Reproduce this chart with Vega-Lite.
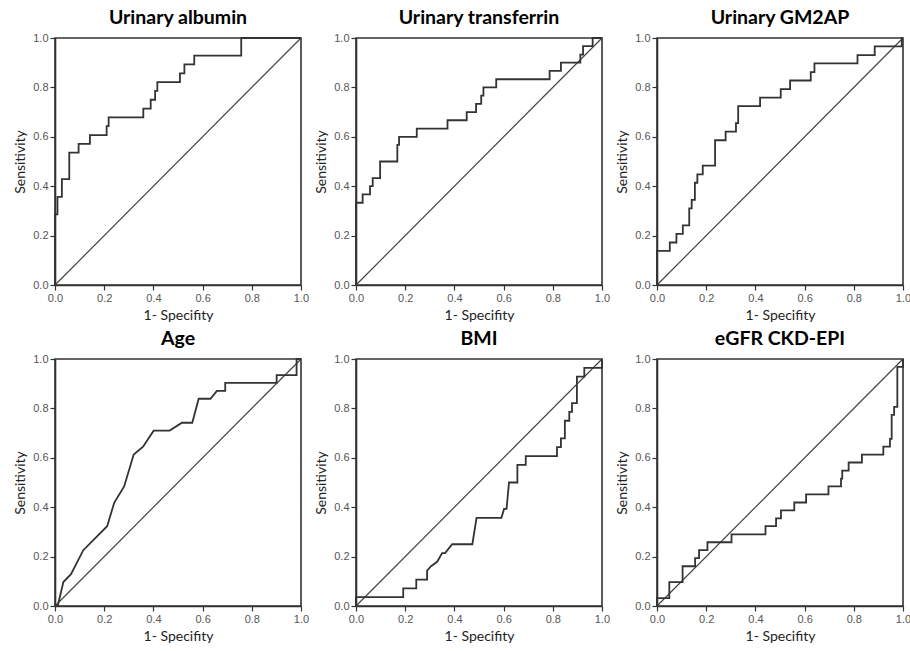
{
  "$schema": "https://vega.github.io/schema/vega-lite/v6.json",
  "padding": {"left": 12, "top": 6, "right": 5, "bottom": 5},
  "background": "white",
  "datasets": {
    "roc": [
      {"p":"Urinary albumin","s":"d","x":0,"y":0},{"p":"Urinary albumin","s":"d","x":1,"y":1},
      {"p":"Urinary albumin","s":"c","x":0,"y":0},{"p":"Urinary albumin","s":"c","x":0,"y":0.286},{"p":"Urinary albumin","s":"c","x":0.01,"y":0.286},{"p":"Urinary albumin","s":"c","x":0.01,"y":0.357},{"p":"Urinary albumin","s":"c","x":0.028,"y":0.357},{"p":"Urinary albumin","s":"c","x":0.028,"y":0.429},{"p":"Urinary albumin","s":"c","x":0.058,"y":0.429},{"p":"Urinary albumin","s":"c","x":0.058,"y":0.536},{"p":"Urinary albumin","s":"c","x":0.096,"y":0.536},{"p":"Urinary albumin","s":"c","x":0.096,"y":0.571},{"p":"Urinary albumin","s":"c","x":0.142,"y":0.571},{"p":"Urinary albumin","s":"c","x":0.142,"y":0.607},{"p":"Urinary albumin","s":"c","x":0.21,"y":0.607},{"p":"Urinary albumin","s":"c","x":0.21,"y":0.643},{"p":"Urinary albumin","s":"c","x":0.218,"y":0.643},{"p":"Urinary albumin","s":"c","x":0.218,"y":0.679},{"p":"Urinary albumin","s":"c","x":0.359,"y":0.679},{"p":"Urinary albumin","s":"c","x":0.359,"y":0.714},{"p":"Urinary albumin","s":"c","x":0.389,"y":0.714},{"p":"Urinary albumin","s":"c","x":0.389,"y":0.75},{"p":"Urinary albumin","s":"c","x":0.407,"y":0.75},{"p":"Urinary albumin","s":"c","x":0.407,"y":0.786},{"p":"Urinary albumin","s":"c","x":0.416,"y":0.786},{"p":"Urinary albumin","s":"c","x":0.416,"y":0.821},{"p":"Urinary albumin","s":"c","x":0.508,"y":0.821},{"p":"Urinary albumin","s":"c","x":0.508,"y":0.857},{"p":"Urinary albumin","s":"c","x":0.526,"y":0.857},{"p":"Urinary albumin","s":"c","x":0.526,"y":0.893},{"p":"Urinary albumin","s":"c","x":0.566,"y":0.893},{"p":"Urinary albumin","s":"c","x":0.566,"y":0.929},{"p":"Urinary albumin","s":"c","x":0.757,"y":0.929},{"p":"Urinary albumin","s":"c","x":0.757,"y":1},{"p":"Urinary albumin","s":"c","x":1,"y":1},

      {"p":"Urinary transferrin","s":"d","x":0,"y":0},{"p":"Urinary transferrin","s":"d","x":1,"y":1},
      {"p":"Urinary transferrin","s":"c","x":0,"y":0},{"p":"Urinary transferrin","s":"c","x":0,"y":0.333},{"p":"Urinary transferrin","s":"c","x":0.027,"y":0.333},{"p":"Urinary transferrin","s":"c","x":0.027,"y":0.367},{"p":"Urinary transferrin","s":"c","x":0.057,"y":0.367},{"p":"Urinary transferrin","s":"c","x":0.057,"y":0.4},{"p":"Urinary transferrin","s":"c","x":0.068,"y":0.4},{"p":"Urinary transferrin","s":"c","x":0.068,"y":0.433},{"p":"Urinary transferrin","s":"c","x":0.098,"y":0.433},{"p":"Urinary transferrin","s":"c","x":0.098,"y":0.5},{"p":"Urinary transferrin","s":"c","x":0.168,"y":0.5},{"p":"Urinary transferrin","s":"c","x":0.168,"y":0.567},{"p":"Urinary transferrin","s":"c","x":0.175,"y":0.567},{"p":"Urinary transferrin","s":"c","x":0.175,"y":0.6},{"p":"Urinary transferrin","s":"c","x":0.247,"y":0.6},{"p":"Urinary transferrin","s":"c","x":0.247,"y":0.633},{"p":"Urinary transferrin","s":"c","x":0.372,"y":0.633},{"p":"Urinary transferrin","s":"c","x":0.372,"y":0.667},{"p":"Urinary transferrin","s":"c","x":0.45,"y":0.667},{"p":"Urinary transferrin","s":"c","x":0.45,"y":0.7},{"p":"Urinary transferrin","s":"c","x":0.488,"y":0.7},{"p":"Urinary transferrin","s":"c","x":0.488,"y":0.733},{"p":"Urinary transferrin","s":"c","x":0.509,"y":0.733},{"p":"Urinary transferrin","s":"c","x":0.509,"y":0.767},{"p":"Urinary transferrin","s":"c","x":0.518,"y":0.767},{"p":"Urinary transferrin","s":"c","x":0.518,"y":0.8},{"p":"Urinary transferrin","s":"c","x":0.57,"y":0.8},{"p":"Urinary transferrin","s":"c","x":0.57,"y":0.833},{"p":"Urinary transferrin","s":"c","x":0.787,"y":0.833},{"p":"Urinary transferrin","s":"c","x":0.787,"y":0.867},{"p":"Urinary transferrin","s":"c","x":0.833,"y":0.867},{"p":"Urinary transferrin","s":"c","x":0.833,"y":0.9},{"p":"Urinary transferrin","s":"c","x":0.912,"y":0.9},{"p":"Urinary transferrin","s":"c","x":0.912,"y":0.933},{"p":"Urinary transferrin","s":"c","x":0.923,"y":0.933},{"p":"Urinary transferrin","s":"c","x":0.923,"y":0.967},{"p":"Urinary transferrin","s":"c","x":0.962,"y":0.967},{"p":"Urinary transferrin","s":"c","x":0.962,"y":1},{"p":"Urinary transferrin","s":"c","x":1,"y":1},

      {"p":"Urinary GM2AP","s":"d","x":0,"y":0},{"p":"Urinary GM2AP","s":"d","x":1,"y":1},
      {"p":"Urinary GM2AP","s":"c","x":0,"y":0},{"p":"Urinary GM2AP","s":"c","x":0,"y":0.138},{"p":"Urinary GM2AP","s":"c","x":0.052,"y":0.138},{"p":"Urinary GM2AP","s":"c","x":0.052,"y":0.172},{"p":"Urinary GM2AP","s":"c","x":0.079,"y":0.172},{"p":"Urinary GM2AP","s":"c","x":0.079,"y":0.207},{"p":"Urinary GM2AP","s":"c","x":0.105,"y":0.207},{"p":"Urinary GM2AP","s":"c","x":0.105,"y":0.241},{"p":"Urinary GM2AP","s":"c","x":0.131,"y":0.241},{"p":"Urinary GM2AP","s":"c","x":0.131,"y":0.31},{"p":"Urinary GM2AP","s":"c","x":0.141,"y":0.31},{"p":"Urinary GM2AP","s":"c","x":0.141,"y":0.345},{"p":"Urinary GM2AP","s":"c","x":0.154,"y":0.345},{"p":"Urinary GM2AP","s":"c","x":0.154,"y":0.414},{"p":"Urinary GM2AP","s":"c","x":0.164,"y":0.414},{"p":"Urinary GM2AP","s":"c","x":0.164,"y":0.448},{"p":"Urinary GM2AP","s":"c","x":0.186,"y":0.448},{"p":"Urinary GM2AP","s":"c","x":0.186,"y":0.483},{"p":"Urinary GM2AP","s":"c","x":0.236,"y":0.483},{"p":"Urinary GM2AP","s":"c","x":0.236,"y":0.586},{"p":"Urinary GM2AP","s":"c","x":0.279,"y":0.586},{"p":"Urinary GM2AP","s":"c","x":0.279,"y":0.621},{"p":"Urinary GM2AP","s":"c","x":0.321,"y":0.621},{"p":"Urinary GM2AP","s":"c","x":0.321,"y":0.655},{"p":"Urinary GM2AP","s":"c","x":0.33,"y":0.655},{"p":"Urinary GM2AP","s":"c","x":0.33,"y":0.724},{"p":"Urinary GM2AP","s":"c","x":0.419,"y":0.724},{"p":"Urinary GM2AP","s":"c","x":0.419,"y":0.759},{"p":"Urinary GM2AP","s":"c","x":0.503,"y":0.759},{"p":"Urinary GM2AP","s":"c","x":0.503,"y":0.793},{"p":"Urinary GM2AP","s":"c","x":0.541,"y":0.793},{"p":"Urinary GM2AP","s":"c","x":0.541,"y":0.828},{"p":"Urinary GM2AP","s":"c","x":0.625,"y":0.828},{"p":"Urinary GM2AP","s":"c","x":0.625,"y":0.862},{"p":"Urinary GM2AP","s":"c","x":0.64,"y":0.862},{"p":"Urinary GM2AP","s":"c","x":0.64,"y":0.897},{"p":"Urinary GM2AP","s":"c","x":0.815,"y":0.897},{"p":"Urinary GM2AP","s":"c","x":0.815,"y":0.931},{"p":"Urinary GM2AP","s":"c","x":0.885,"y":0.931},{"p":"Urinary GM2AP","s":"c","x":0.885,"y":0.966},{"p":"Urinary GM2AP","s":"c","x":0.995,"y":0.966},{"p":"Urinary GM2AP","s":"c","x":0.995,"y":1},{"p":"Urinary GM2AP","s":"c","x":1,"y":1},

      {"p":"Age","s":"d","x":0,"y":0},{"p":"Age","s":"d","x":1,"y":1},
      {"p":"Age","s":"c","x":0,"y":0},{"p":"Age","s":"c","x":0.011,"y":0},{"p":"Age","s":"c","x":0.034,"y":0.097},{"p":"Age","s":"c","x":0.065,"y":0.129},{"p":"Age","s":"c","x":0.115,"y":0.226},{"p":"Age","s":"c","x":0.212,"y":0.323},{"p":"Age","s":"c","x":0.241,"y":0.419},{"p":"Age","s":"c","x":0.281,"y":0.484},{"p":"Age","s":"c","x":0.32,"y":0.613},{"p":"Age","s":"c","x":0.358,"y":0.645},{"p":"Age","s":"c","x":0.401,"y":0.71},{"p":"Age","s":"c","x":0.466,"y":0.71},{"p":"Age","s":"c","x":0.516,"y":0.742},{"p":"Age","s":"c","x":0.558,"y":0.742},{"p":"Age","s":"c","x":0.584,"y":0.839},{"p":"Age","s":"c","x":0.632,"y":0.839},{"p":"Age","s":"c","x":0.658,"y":0.871},{"p":"Age","s":"c","x":0.692,"y":0.871},{"p":"Age","s":"c","x":0.692,"y":0.903},{"p":"Age","s":"c","x":0.901,"y":0.903},{"p":"Age","s":"c","x":0.901,"y":0.935},{"p":"Age","s":"c","x":0.982,"y":0.935},{"p":"Age","s":"c","x":0.982,"y":1},{"p":"Age","s":"c","x":1,"y":1},

      {"p":"BMI","s":"d","x":0,"y":0},{"p":"BMI","s":"d","x":1,"y":1},
      {"p":"BMI","s":"c","x":0,"y":0},{"p":"BMI","s":"c","x":0,"y":0.036},{"p":"BMI","s":"c","x":0.192,"y":0.036},{"p":"BMI","s":"c","x":0.192,"y":0.071},{"p":"BMI","s":"c","x":0.245,"y":0.071},{"p":"BMI","s":"c","x":0.245,"y":0.107},{"p":"BMI","s":"c","x":0.289,"y":0.107},{"p":"BMI","s":"c","x":0.289,"y":0.143},{"p":"BMI","s":"c","x":0.305,"y":0.161},{"p":"BMI","s":"c","x":0.33,"y":0.179},{"p":"BMI","s":"c","x":0.35,"y":0.214},{"p":"BMI","s":"c","x":0.362,"y":0.214},{"p":"BMI","s":"c","x":0.391,"y":0.25},{"p":"BMI","s":"c","x":0.473,"y":0.25},{"p":"BMI","s":"c","x":0.49,"y":0.357},{"p":"BMI","s":"c","x":0.591,"y":0.357},{"p":"BMI","s":"c","x":0.602,"y":0.393},{"p":"BMI","s":"c","x":0.612,"y":0.393},{"p":"BMI","s":"c","x":0.622,"y":0.5},{"p":"BMI","s":"c","x":0.656,"y":0.5},{"p":"BMI","s":"c","x":0.656,"y":0.571},{"p":"BMI","s":"c","x":0.69,"y":0.571},{"p":"BMI","s":"c","x":0.69,"y":0.607},{"p":"BMI","s":"c","x":0.817,"y":0.607},{"p":"BMI","s":"c","x":0.817,"y":0.643},{"p":"BMI","s":"c","x":0.833,"y":0.643},{"p":"BMI","s":"c","x":0.833,"y":0.679},{"p":"BMI","s":"c","x":0.849,"y":0.679},{"p":"BMI","s":"c","x":0.849,"y":0.75},{"p":"BMI","s":"c","x":0.867,"y":0.75},{"p":"BMI","s":"c","x":0.867,"y":0.786},{"p":"BMI","s":"c","x":0.878,"y":0.786},{"p":"BMI","s":"c","x":0.878,"y":0.821},{"p":"BMI","s":"c","x":0.898,"y":0.821},{"p":"BMI","s":"c","x":0.898,"y":0.929},{"p":"BMI","s":"c","x":0.928,"y":0.929},{"p":"BMI","s":"c","x":0.928,"y":0.964},{"p":"BMI","s":"c","x":1,"y":0.964},{"p":"BMI","s":"c","x":1,"y":1},

      {"p":"eGFR CKD-EPI","s":"d","x":0,"y":0},{"p":"eGFR CKD-EPI","s":"d","x":1,"y":1},
      {"p":"eGFR CKD-EPI","s":"c","x":0,"y":0},{"p":"eGFR CKD-EPI","s":"c","x":0,"y":0.032},{"p":"eGFR CKD-EPI","s":"c","x":0.05,"y":0.032},{"p":"eGFR CKD-EPI","s":"c","x":0.05,"y":0.097},{"p":"eGFR CKD-EPI","s":"c","x":0.104,"y":0.097},{"p":"eGFR CKD-EPI","s":"c","x":0.104,"y":0.161},{"p":"eGFR CKD-EPI","s":"c","x":0.155,"y":0.161},{"p":"eGFR CKD-EPI","s":"c","x":0.155,"y":0.194},{"p":"eGFR CKD-EPI","s":"c","x":0.171,"y":0.194},{"p":"eGFR CKD-EPI","s":"c","x":0.171,"y":0.226},{"p":"eGFR CKD-EPI","s":"c","x":0.205,"y":0.226},{"p":"eGFR CKD-EPI","s":"c","x":0.205,"y":0.258},{"p":"eGFR CKD-EPI","s":"c","x":0.303,"y":0.258},{"p":"eGFR CKD-EPI","s":"c","x":0.303,"y":0.29},{"p":"eGFR CKD-EPI","s":"c","x":0.441,"y":0.29},{"p":"eGFR CKD-EPI","s":"c","x":0.441,"y":0.323},{"p":"eGFR CKD-EPI","s":"c","x":0.484,"y":0.323},{"p":"eGFR CKD-EPI","s":"c","x":0.484,"y":0.355},{"p":"eGFR CKD-EPI","s":"c","x":0.504,"y":0.355},{"p":"eGFR CKD-EPI","s":"c","x":0.504,"y":0.387},{"p":"eGFR CKD-EPI","s":"c","x":0.558,"y":0.387},{"p":"eGFR CKD-EPI","s":"c","x":0.558,"y":0.419},{"p":"eGFR CKD-EPI","s":"c","x":0.606,"y":0.419},{"p":"eGFR CKD-EPI","s":"c","x":0.606,"y":0.452},{"p":"eGFR CKD-EPI","s":"c","x":0.697,"y":0.452},{"p":"eGFR CKD-EPI","s":"c","x":0.697,"y":0.484},{"p":"eGFR CKD-EPI","s":"c","x":0.748,"y":0.484},{"p":"eGFR CKD-EPI","s":"c","x":0.748,"y":0.516},{"p":"eGFR CKD-EPI","s":"c","x":0.753,"y":0.516},{"p":"eGFR CKD-EPI","s":"c","x":0.753,"y":0.548},{"p":"eGFR CKD-EPI","s":"c","x":0.779,"y":0.548},{"p":"eGFR CKD-EPI","s":"c","x":0.779,"y":0.581},{"p":"eGFR CKD-EPI","s":"c","x":0.833,"y":0.581},{"p":"eGFR CKD-EPI","s":"c","x":0.833,"y":0.613},{"p":"eGFR CKD-EPI","s":"c","x":0.92,"y":0.613},{"p":"eGFR CKD-EPI","s":"c","x":0.92,"y":0.645},{"p":"eGFR CKD-EPI","s":"c","x":0.947,"y":0.645},{"p":"eGFR CKD-EPI","s":"c","x":0.947,"y":0.677},{"p":"eGFR CKD-EPI","s":"c","x":0.954,"y":0.677},{"p":"eGFR CKD-EPI","s":"c","x":0.954,"y":0.774},{"p":"eGFR CKD-EPI","s":"c","x":0.964,"y":0.774},{"p":"eGFR CKD-EPI","s":"c","x":0.964,"y":0.806},{"p":"eGFR CKD-EPI","s":"c","x":0.977,"y":0.806},{"p":"eGFR CKD-EPI","s":"c","x":0.977,"y":0.968},{"p":"eGFR CKD-EPI","s":"c","x":1,"y":0.968},{"p":"eGFR CKD-EPI","s":"c","x":1,"y":1}
    ]
  },
  "data": {"name": "roc"},
  "columns": 3,
  "bounds": "flush",
  "spacing": {"column": 55, "row": 74},
  "facet": {
    "field": "p",
    "type": "nominal",
    "sort": ["Urinary albumin", "Urinary transferrin", "Urinary GM2AP", "Age", "BMI", "eGFR CKD-EPI"],
    "header": {"title": null, "labelFont": "Lato", "labelFontSize": 19.5, "labelFontWeight": "bold", "labelColor": "#000", "labelPadding": 4}
  },
  "spec": {
    "width": 246,
    "height": 247,
    "encoding": {
      "x": {"field": "x", "type": "quantitative", "scale": {"domain": [0, 1], "nice": false}, "axis": {"title": "1- Specifity", "values": [0, 0.2, 0.4, 0.6, 0.8, 1], "format": ".1f"}},
      "y": {"field": "y", "type": "quantitative", "scale": {"domain": [0, 1], "nice": false}, "axis": {"title": "Sensitivity", "values": [0, 0.2, 0.4, 0.6, 0.8, 1], "format": ".1f"}},
      "order": {"value": null}
    },
    "layer": [
      {"transform": [{"filter": "datum.s == 'd'"}], "mark": {"type": "line", "color": "#444", "strokeWidth": 1.2}},
      {"transform": [{"filter": "datum.s == 'c'"}], "mark": {"type": "line", "color": "#333", "strokeWidth": 1.8}}
    ]
  },
  "resolve": {"axis": {"x": "independent", "y": "independent"}},
  "config": {
    "view": {"stroke": "#333", "strokeWidth": 1.6},
    "axis": {"grid": false, "domainColor": "#333", "domainWidth": 1.6, "tickColor": "#333", "tickSize": 5, "tickWidth": 1.2, "labelFont": "Liberation Sans", "labelFontSize": 11, "labelColor": "#555", "labelPadding": 2, "titleFont": "Lato", "titleFontSize": 14, "titleFontWeight": "normal", "titleColor": "#222", "titlePadding": 5, "labelFlush": false}
  }
}
